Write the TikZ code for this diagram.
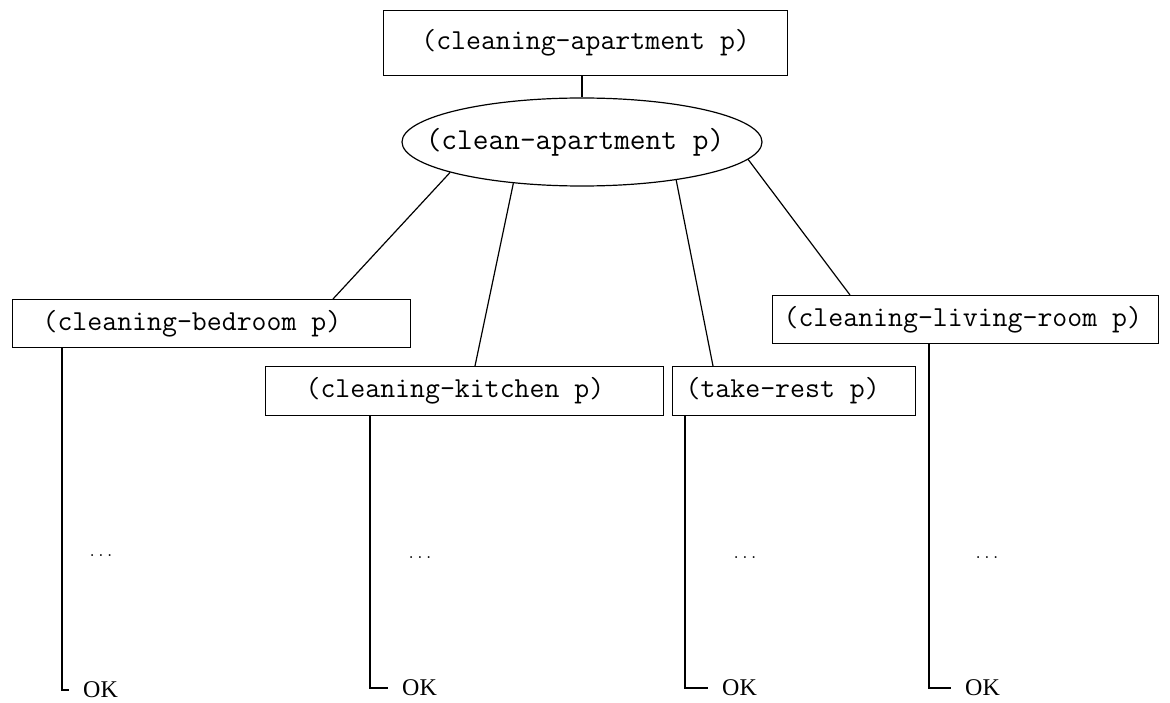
\documentclass[tikz,border=0pt]{standalone}
\usepackage{fontspec}
\setmainfont{Liberation Serif}
\usetikzlibrary{shapes.geometric,calc}
\begin{document}
\begin{tikzpicture}[x=1pt,y=-1pt,
  box/.style={draw, line width=1.2pt, rectangle, inner xsep=0pt, inner ysep=0pt,
    anchor=north west, font=\ttfamily\fontsize{29}{31}\selectfont},
  conn/.style={line width=1.2pt},
  oklabel/.style={inner sep=0pt, anchor=west, font=\fontsize{24}{26}\selectfont},
  dotlabel/.style={inner sep=0pt, font=\ttfamily\fontsize{17}{19}\selectfont}]
\useasboundingbox (0,0) rectangle (1170,703);
\fill[white] (0,0) rectangle (1170,703);

% boxes
\node[box, minimum height=65pt] (top) at (383,10) {\makebox[404pt][c]{(cleaning-apartment p)}};
\node[ellipse, draw, line width=1.2pt, minimum width=360pt, minimum height=88pt, inner sep=0pt] (ell) at (582,142) {};
\node[inner sep=0pt, font=\ttfamily\fontsize{30.5}{32}\selectfont] (elltext) at (575,142) {(clean-apartment p)};
\node[box, minimum height=48pt] (bed) at (12,299) {\makebox[398pt][l]{\hspace*{30pt}(cleaning-bedroom p)}};
\node[box, minimum height=49pt] (kit) at (265,366) {\makebox[398pt][l]{\hspace*{40pt}(cleaning-kitchen p)}};
\node[box, minimum height=49pt] (rest) at (672,366) {\makebox[243pt][l]{\hspace*{13pt}(take-rest p)}};
\node[box, minimum height=48pt] (liv) at (772,295) {\makebox[386pt][l]{\hspace*{11pt}(cleaning-living-room p)}};

% connectors from the top
\draw[conn] (ell.north |- top.south) -- (ell.north);
\draw[conn] (ell.193.4) -- ($(bed.north west)+(321,0)$);
\draw[conn] (ell.211.3) -- ($(kit.north west)+(210,0)$);
\draw[conn] (ell.338.5) -- ($(rest.north west)+(41,0)$);
\draw[conn] (ell.354.6) -- ($(liv.north west)+(78,0)$);

% dots
\node[dotlabel] (d1) at (101,556) {...};
\node[dotlabel] (d2) at (420,558) {...};
\node[dotlabel] (d3) at (745,558) {...};
\node[dotlabel] (d4) at (987,558) {...};

% OK labels
\node[oklabel] (ok1) at (83,690) {OK};
\node[oklabel] (ok2) at (402,688) {OK};
\node[oklabel] (ok3) at (722,688) {OK};
\node[oklabel] (ok4) at (965,688) {OK};

\draw[conn, shorten >=14pt] ($(bed.south west)+(50,0)$) |- (ok1.west);
\draw[conn, shorten >=14pt] ($(kit.south west)+(105,0)$) |- (ok2.west);
\draw[conn, shorten >=14pt] ($(rest.south west)+(13,0)$) |- (ok3.west);
\draw[conn, shorten >=14pt] ($(liv.south west)+(157,0)$) |- (ok4.west);
\end{tikzpicture}
\end{document}
